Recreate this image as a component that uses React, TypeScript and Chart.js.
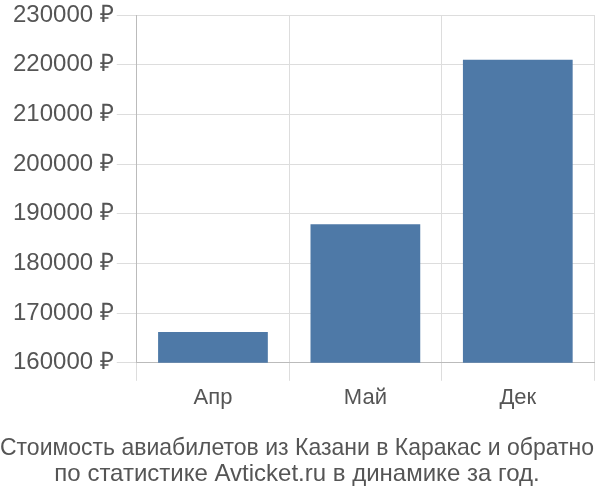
import React, { useEffect, useRef } from "react";
import { Chart, registerables } from "chart.js";

Chart.register(...registerables);

const categories = ["Апр", "Май", "Дек"];
const prices = [166200, 187900, 221000];
const titleLines = [
  "Стоимость авиабилетов из Казани в Каракас и обратно",
  "по статистике Avticket.ru в динамике за год.",
];

export default function App() {
  const ref = useRef<HTMLCanvasElement | null>(null);
  useEffect(() => {
    if (!ref.current) return;
    const font = "'Liberation Sans', Arial, sans-serif";
    const chart = new Chart(ref.current, {
      type: "bar",
      data: {
        labels: categories,
        datasets: [
          {
            data: prices,
            backgroundColor: "#4e79a7",
            borderWidth: 0,
          },
        ],
      },
      options: {
        animation: false,
        responsive: false,
        maintainAspectRatio: false,
        layout: { padding: { left: 0, right: 6, top: 2, bottom: 0 } },
        plugins: {
          legend: { display: false },
          tooltip: { enabled: false },
          title: {
            display: true,
            position: "bottom",
            text: titleLines,
            color: "#555555",
            font: { family: font, size: 24, weight: "normal", lineHeight: 1.1 },
            padding: { top: 20, bottom: 12 },
          },
        },
        scales: {
          x: {
            grid: {
              color: "#dddddd",
              lineWidth: 1,
              tickLength: 18,
              offset: true,
            },
            border: { color: "#bbbbbb" },
            ticks: {
              color: "#555555",
              font: { family: font, size: 22 },
              padding: 4,
            },
          },
          y: {
            min: 160000,
            max: 230000,
            afterFit: (scale: any) => {
              scale.width += 10;
            },
            grid: { color: "#dddddd", lineWidth: 1, tickLength: 20 },
            border: { color: "#bbbbbb" },
            ticks: {
              stepSize: 10000,
              color: "#555555",
              font: { family: font, size: 24, lineHeight: 1.0 },
              padding: 3,
              callback: (v: any) => `${v} ₽`,
            },
          },
        },
      },
    });
    return () => chart.destroy();
  }, []);
  return (
    <div style={{ position: "fixed", left: 0, top: 0, width: 600, height: 500, background: "#fff" }}>
      <canvas ref={ref} width={600} height={500} style={{ width: 600, height: 500 }} />
    </div>
  );
}
